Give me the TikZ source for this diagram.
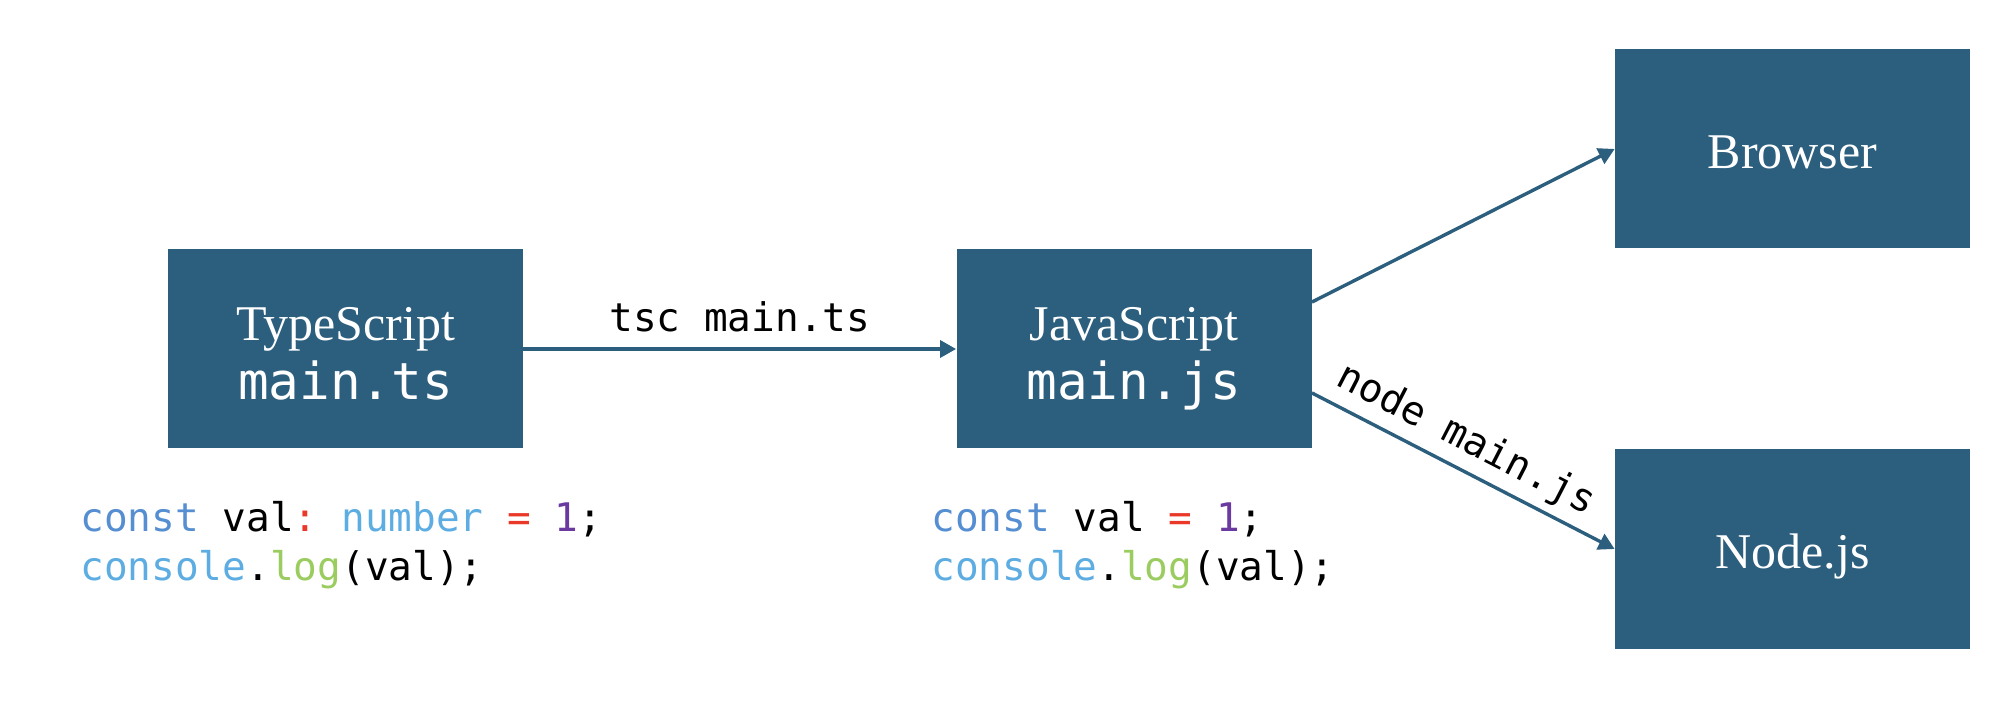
\documentclass[tikz,border=0pt]{standalone}
\usepackage{fontspec}
\setmainfont{Liberation Serif}
\setmonofont{DejaVu Sans Mono}
\usetikzlibrary{arrows.meta,calc}
\definecolor{boxblue}{RGB}{44,94,126}
\definecolor{ckw}{RGB}{86,142,210}
\definecolor{cid}{RGB}{93,173,226}
\definecolor{cop}{RGB}{234,56,41}
\definecolor{cnum}{RGB}{107,58,160}
\definecolor{cfn}{RGB}{155,204,96}
\begin{document}
\begin{tikzpicture}[x=0.5pt,y=-0.5pt,
  box/.style={fill=boxblue, minimum width=177.5pt, minimum height=99.5pt, inner sep=0pt,
    text=white, align=center, font=\fontsize{25}{29.5}\selectfont, text depth=0pt},
  onebox/.style={box, text height=19.2pt},
  twobox/.style={box, text height=50.5pt},
  arr/.style={draw=boxblue, line width=1.7pt, -{Triangle[length=8pt,width=8.5pt]}},
  lbl/.style={font=\ttfamily\fontsize{19.7}{24}\selectfont, inner sep=0pt, text=black, text depth=0pt},
  code/.style={font=\ttfamily\fontsize{19.7}{24.5}\selectfont, inner sep=0pt, anchor=base west, text=black}]
\useasboundingbox (0,0) rectangle (2016,710);
\node[twobox] (ts) at (345.5,349) {TypeScript\\{\ttfamily\fontsize{25.5}{29.5}\selectfont main.ts}};
\node[twobox] (js) at (1134,349) {JavaScript\\{\ttfamily\fontsize{25.5}{29.5}\selectfont main.js}};
\node[onebox] (br) at (1792.5,149) {Browser};
\node[onebox] (nd) at (1792.5,549) {Node.js};
\coordinate (jsa) at ($(js.north east)!0.265!(js.south east)$);
\coordinate (jsb) at ($(js.north east)!0.72!(js.south east)$);
\draw[arr] (ts.east) -- node[lbl, above=8pt] {tsc main.ts} (js.west);
\draw[arr] (jsa) -- (br.west);
\draw[arr] (jsb) -- node[lbl, sloped, above=8pt, pos=0.465] {node main.js} (nd.west);
\node[code] (tsc1) at (80,531) {\textcolor{ckw}{const} val\textcolor{cop}{:} \textcolor{cid}{number} \textcolor{cop}{=} \textcolor{cnum}{1};};
\node[code] (tsc2) at (80,580) {\textcolor{cid}{console}.\textcolor{cfn}{log}(val);};
\node[code] (jsc1) at (931,531) {\textcolor{ckw}{const} val \textcolor{cop}{=} \textcolor{cnum}{1};};
\node[code] (jsc2) at (931,580) {\textcolor{cid}{console}.\textcolor{cfn}{log}(val);};
\end{tikzpicture}
\end{document}
